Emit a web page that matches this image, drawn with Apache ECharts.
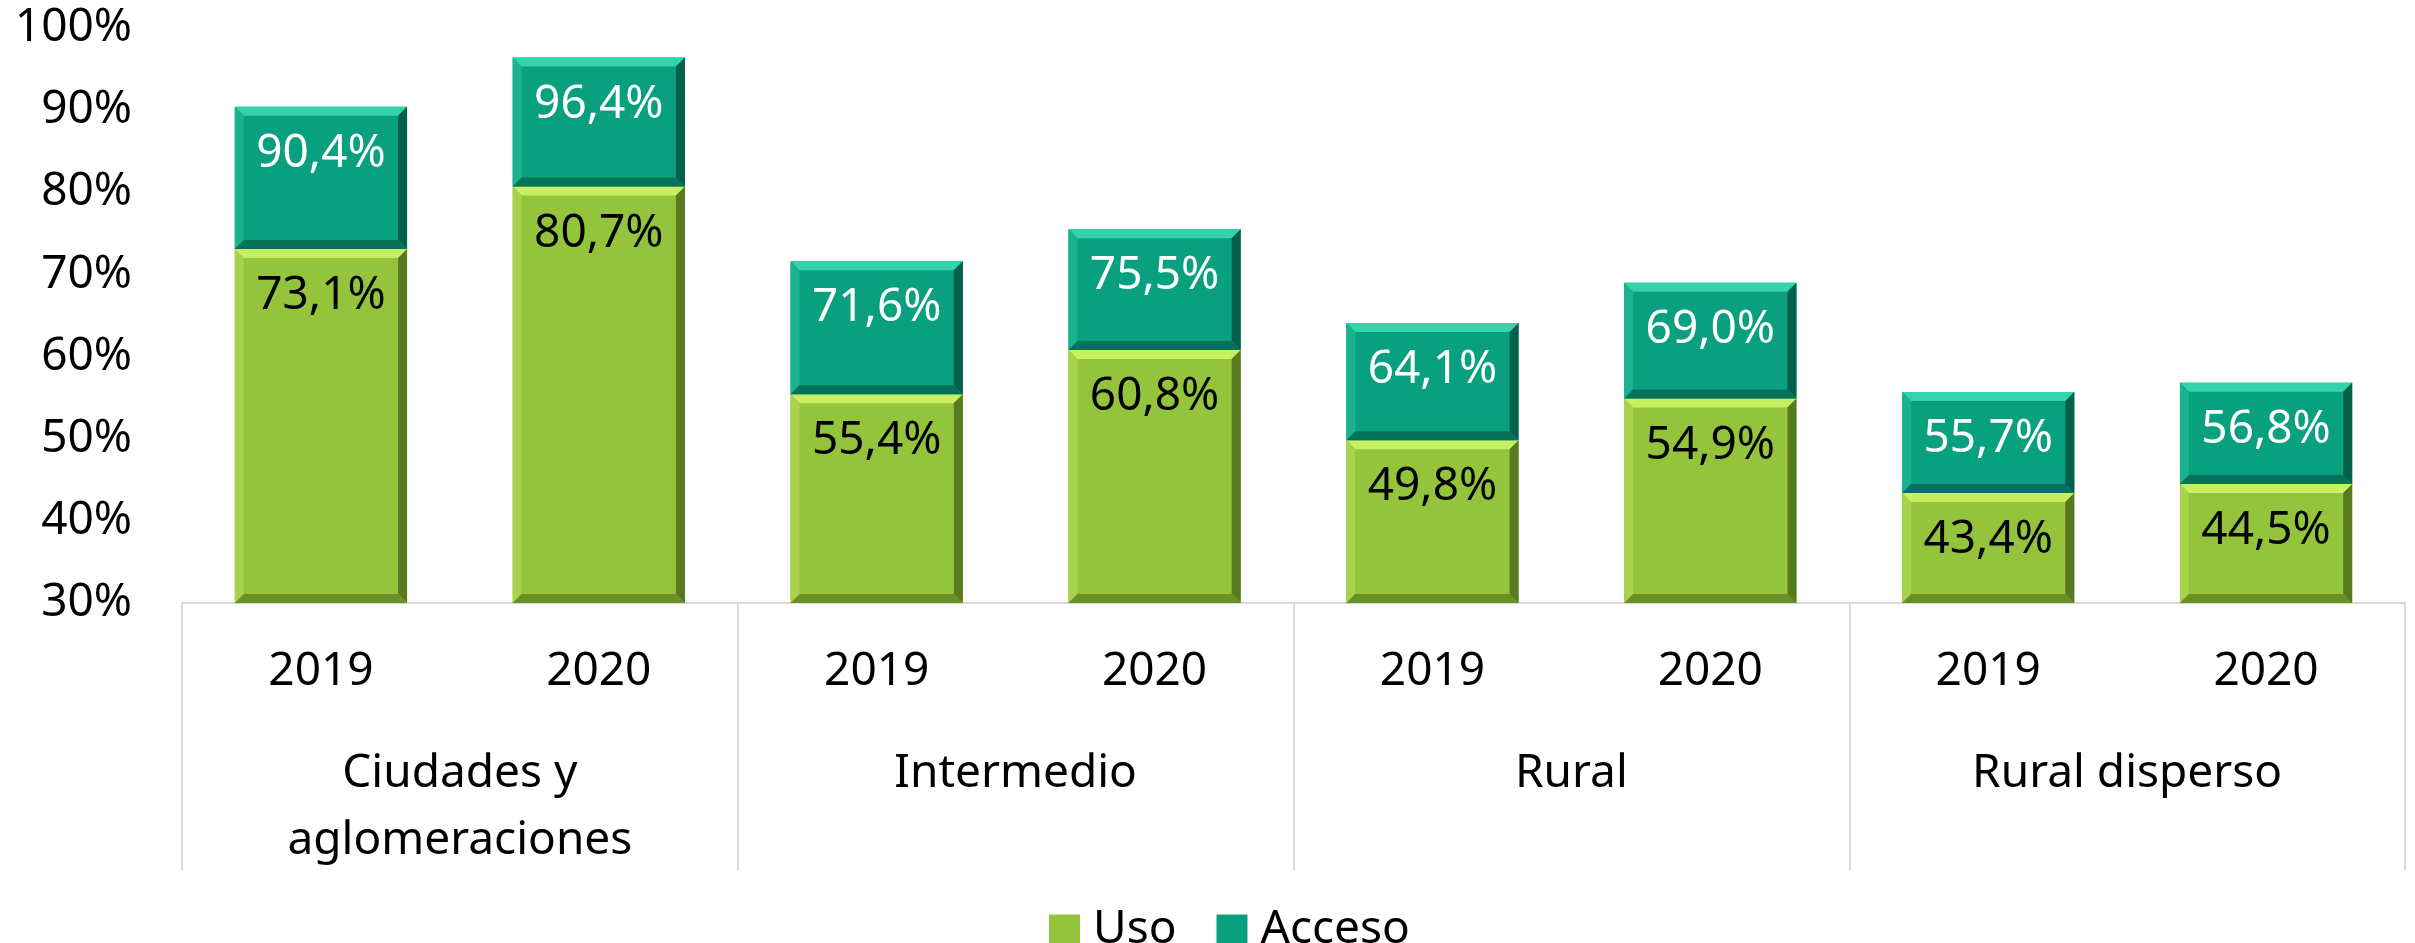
<!DOCTYPE html>
<html>
<head>
<meta charset="utf-8">
<script src="https://cdn.jsdelivr.net/npm/echarts@6/dist/echarts.min.js"></script>
<style>
  html, body { margin: 0; padding: 0; background: #fff; }
  #chart { width: 2415px; height: 943px; }
</style>
</head>
<body>
<div id="chart"></div>
<script>
// datos
var years = ['2019', '2020', '2019', '2020', '2019', '2020', '2019', '2020'];
var groups = ['Ciudades y\naglomeraciones', 'Intermedio', 'Rural', 'Rural disperso'];
var uso = [73.1, 80.7, 55.4, 60.8, 49.8, 54.9, 43.4, 44.5];
var acceso = [90.4, 96.4, 71.6, 75.5, 64.1, 69.0, 55.7, 56.8];

var FONT = 'Noto Sans';
var AXIS_MIN = 30;

// colores: base, luz arriba, luz izquierda, sombra derecha, sombra abajo
var verde = { base: '#94c43c', top: '#c6ef62', left: '#a6d24c', right: '#587a1e', bottom: '#6a8f26', text: '#000' };
var teal = { base: '#09a07f', top: '#33d3ab', left: '#1bb38f', right: '#05604b', bottom: '#06725a', text: '#fff' };

function fmt(v) {
    return v.toFixed(1).replace('.', ',') + '%';
}

// barra con efecto bisel, de "desde" hasta "hasta"
function bevelBar(c) {
    return function (params, api) {
        var i = api.value(0);
        var hasta = api.value(1);
        var desde = api.value(2);
        var p1 = api.coord([i, hasta]);
        var p0 = api.coord([i, desde]);
        var w = api.size([1, 0])[0] * 0.62;
        var x = p1[0] - w / 2, y = p1[1], h = p0[1] - p1[1];
        var b = 9;
        return {
            type: 'group',
            children: [
                { type: 'rect', shape: { x: x, y: y, width: w, height: h }, style: { fill: c.base } },
                { type: 'polygon', shape: { points: [[x, y], [x + w, y], [x + w - b, y + b], [x + b, y + b]] }, style: { fill: c.top } },
                { type: 'polygon', shape: { points: [[x, y], [x + b, y + b], [x + b, y + h - b], [x, y + h]] }, style: { fill: c.left } },
                { type: 'polygon', shape: { points: [[x + w, y], [x + w, y + h], [x + w - b, y + h - b], [x + w - b, y + b]] }, style: { fill: c.right } },
                { type: 'polygon', shape: { points: [[x, y + h], [x + w, y + h], [x + w - b, y + h - b], [x + b, y + h - b]] }, style: { fill: c.bottom } },
                {
                    type: 'text',
                    style: {
                        text: fmt(hasta), x: p1[0], y: y + 24,
                        align: 'center', verticalAlign: 'top',
                        fill: c.text, fontSize: 46, fontFamily: FONT
                    }
                }
            ]
        };
    };
}

var usoData = uso.map(function (v, i) { return [i, v, AXIS_MIN]; });
var accesoData = acceso.map(function (v, i) { return [i, v, uso[i]]; });

var chart = echarts.init(document.getElementById('chart'));
chart.setOption({
    animation: false,
    grid: { left: 182, right: 10, top: 28, bottom: 340 },
    legend: {
        data: ['Uso', 'Acceso'],
        left: 1044,
        top: 902,
        icon: 'rect',
        itemWidth: 31,
        itemHeight: 31,
        itemGap: 40,
        textStyle: { fontSize: 46, fontFamily: FONT, color: '#000', padding: [0, 0, 0, 8] }
    },
    xAxis: [
        {
            type: 'category',
            data: years,
            axisLine: { lineStyle: { color: '#d9d9d9', width: 2 } },
            axisTick: { show: false },
            axisLabel: { margin: 46, fontSize: 46, fontFamily: FONT, color: '#000', lineHeight: 46 }
        },
        {
            type: 'category',
            data: groups,
            position: 'bottom',
            offset: 0,
            axisLine: { show: false },
            axisTick: { show: true, length: 267, lineStyle: { color: '#d9d9d9', width: 2 } },
            axisLabel: { margin: 137, fontSize: 46, fontFamily: FONT, color: '#000', lineHeight: 67 }
        }
    ],
    yAxis: {
        type: 'value',
        min: 30,
        max: 100,
        interval: 10,
        axisLine: { show: false },
        axisTick: { show: false },
        splitLine: { show: false },
        axisLabel: { formatter: '{value}%', margin: 50, fontSize: 46, fontFamily: FONT, color: '#000' }
    },
    series: [
        {
            name: 'Uso',
            type: 'custom',
            xAxisIndex: 0,
            itemStyle: { color: verde.base },
            encode: { x: 0, y: [1, 2] },
            renderItem: bevelBar(verde),
            data: usoData
        },
        {
            name: 'Acceso',
            type: 'custom',
            xAxisIndex: 0,
            itemStyle: { color: teal.base },
            encode: { x: 0, y: [1, 2] },
            renderItem: bevelBar(teal),
            data: accesoData
        }
    ]
});
</script>
</body>
</html>
